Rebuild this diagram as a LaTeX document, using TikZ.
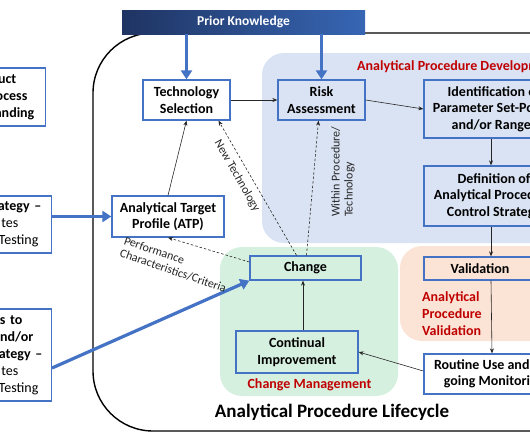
\documentclass[tikz,border=0pt]{standalone}
\usepackage{fontspec}
\setmainfont{Carlito}
\usetikzlibrary{arrows.meta}
\definecolor{boxblue}{HTML}{4472C4}
\definecolor{devblue}{HTML}{DAE3F3}
\definecolor{chggreen}{HTML}{D6F0E0}
\definecolor{valpeach}{HTML}{FBE4D6}
\definecolor{lblred}{HTML}{C00000}
\definecolor{pknavy}{HTML}{1F3462}
\definecolor{pkblue}{HTML}{3766B4}
\newcommand\padr[1]{\rule{#1}{0pt}}

\begin{document}
\begin{tikzpicture}[x=1pt, y=-1pt,
    box/.style={draw=boxblue, line width=1.3pt, align=center, inner sep=0pt,
                font=\fontsize{14}{16.5}\selectfont\bfseries},
    sidebox/.style={draw=boxblue, line width=1.3pt, align=right, text width=100pt,
                inner ysep=0pt, anchor=east, font=\fontsize{14}{17}\selectfont},
    stagelabel/.style={text=lblred, inner sep=0pt, font=\fontsize{14}{17}\selectfont\bfseries},
    flowarrow/.style={-{Stealth[length=5pt,width=4pt]}, line width=0.6pt, black!85},
    dasharrow/.style={flowarrow, dash pattern=on 2.5pt off 2pt},
    inputarrow/.style={-{Triangle[length=9pt,width=11pt]}, line width=3.2pt, boxblue},
    arrowlabel/.style={inner sep=0pt, align=left, text=black!85, font=\fontsize{12}{13}\selectfont}
]
    \useasboundingbox (0,0) rectangle (530,442);
    \clip (0,0) rectangle (530,442);

    \fill[devblue, rounded corners=22pt] (262,53) rectangle (560,243);
    \fill[chggreen, rounded corners=22pt] (220,247) rectangle (398,396);
    \fill[valpeach, rounded corners=22pt] (400,246) rectangle (560,341);
    \draw[line width=1.4pt, rounded corners=60pt] (560,33) -- (93,33) -- (93,431) -- (560,431);

    \node[minimum width=243pt, minimum height=24pt, inner sep=0pt, left color=pknavy, right color=pkblue,
          text=white, font=\fontsize{13.5}{16}\selectfont\bfseries] (bar) at (243.5,22) {Prior Knowledge};

    \node[stagelabel, anchor=base west] (devlabel) at (357,70) {Analytical Procedure Development};
    \node[stagelabel, anchor=base] (chglabel) at (309.5,388) {Change Management};
    \node[stagelabel, anchor=north west, align=left] (vallabel) at (422,291) {Analytical\\Procedure\\Validation};

    \node[box, minimum width=87pt, minimum height=40pt] (tech) at (186.5,100) {Technology\\Selection};
    \node[box, minimum width=87pt, minimum height=40pt] (risk) at (321.5,100) {Risk\\Assessment};
    \node[box, minimum width=140pt, minimum height=58pt] (ident) at (494,109) {Identification of\\Parameter Set-Points\\and/or Ranges};
    \node[box, minimum width=140pt, minimum height=60pt] (defn) at (494,196) {Definition of\\Analytical Procedure\\Control Strategy};
    \node[box, minimum width=112pt, minimum height=23pt] (valid) at (480,268.5) {Validation};
    \node[box, minimum width=140pt, minimum height=40pt] (routine) at (494,374) {Routine Use and On-\\going Monitoring};
    \node[box, minimum width=112pt, minimum height=41pt] (atp) at (168,216.5) {Analytical Target\\Profile (ATP)};
    \node[box, minimum width=111pt, minimum height=24pt] (change) at (305.5,268) {Change};
    \node[box, minimum width=122pt, minimum height=42pt] (improve) at (297,352) {Continual\\Improvement};

    \node[sidebox, inner xsep=11pt, minimum height=58pt] (understand) at (46,97)
        {\textbf{uct}\padr{18pt}\\\textbf{ocess}\padr{7pt}\\\textbf{anding}};
    \node[sidebox, inner xsep=10pt, minimum height=57pt] (strategy) at (52,224.5)
        {\textbf{rategy –}\\tes\padr{23pt}\\Testing\padr{3pt}};
    \node[sidebox, inner xsep=9pt, minimum height=92pt] (changes) at (52,355)
        {\textbf{es to}\padr{20pt}\\\textbf{and/or}\padr{9pt}\\\textbf{rategy –}\\tes\padr{24pt}\\Testing\padr{4pt}};

    \draw[inputarrow] (tech.north |- bar.south) -- (tech.north);
    \draw[inputarrow] (risk.north |- bar.south) -- (risk.north);
    \draw[inputarrow] (strategy.east |- atp.west) -- (atp.west);
    \draw[inputarrow] ([yshift=-13pt]changes.east) -- (change.south west);

    \draw[flowarrow] (atp.north) -- (tech.south);
    \draw[flowarrow] (tech.east) -- (risk.west);
    \draw[flowarrow] (risk.east) -- (ident.west);
    \draw[flowarrow] ([xshift=-3pt]ident.south) -- ([xshift=-3pt]defn.north);
    \draw[flowarrow] ([xshift=-3pt]defn.south) -- ([xshift=-3pt]defn.south |- valid.north);
    \draw[flowarrow] ([xshift=-3pt]defn.south |- valid.south) -- ([xshift=-2pt]routine.north);
    \draw[flowarrow] ([yshift=3pt]routine.west) -- (improve.east);
    \draw[flowarrow] ([xshift=6pt]improve.north) -- ([xshift=6pt]improve.north |- change.south);

    \draw[dasharrow] ([xshift=-9pt]change.north) -- ([xshift=32pt]tech.south);
    \draw[dasharrow] ([xshift=1pt]change.north) -- ([xshift=-3pt]risk.south);
    \draw[dasharrow] ([yshift=6pt]change.west) -- (atp.south);

    \node[arrowlabel, rotate=-60] (newtech) at (237,176) {New Technology};
    \node[arrowlabel, rotate=90, anchor=north west] (within) at (331,217) {Within Procedure/\\Technology};
    \node[arrowlabel, rotate=-19, anchor=north west] (perf) at (126,236) {Performance\\Characteristics/Criteria};

    \node[font=\fontsize{19}{22}\selectfont\bfseries] (lifecycle) at (332,412) {Analytical Procedure Lifecycle};
\end{tikzpicture}
\end{document}
